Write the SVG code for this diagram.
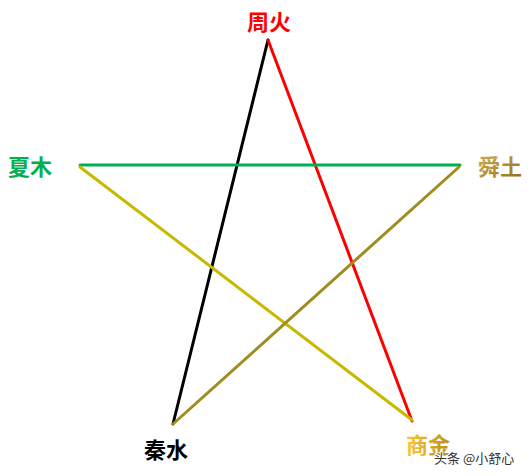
<svg xmlns="http://www.w3.org/2000/svg" width="531" height="476" viewBox="0 0 531 476">
<style>
.l{font-family:"Noto Sans CJK SC","Noto Sans CJK JP",sans-serif;font-weight:bold;font-size:22px;text-anchor:middle}
.e{fill:none;stroke-width:3;stroke-linecap:round}
.wm{font-family:"Noto Sans CJK SC",sans-serif;font-size:13px;fill:#333;stroke:#fff;stroke-width:2;paint-order:stroke}
</style>
<defs>
<linearGradient id="gs" x1="0" y1="0" x2="1" y2="1"><stop offset="0" stop-color="#d6b456"/><stop offset="1" stop-color="#8e6d1a"/></linearGradient>
<linearGradient id="gj" x1="0" y1="0" x2="1" y2="0"><stop offset="0" stop-color="#ffc534"/><stop offset="1" stop-color="#b8901a"/></linearGradient>
</defs>
<g id="edges">
<line class="e" x1="268" y1="40" x2="173" y2="424" stroke="#000"/>
<line class="e" x1="268" y1="40" x2="412" y2="421" stroke="#ff0000"/>
<line class="e" x1="80" y1="165" x2="460" y2="165" stroke="#00b050"/>
<line class="e" x1="80" y1="167" x2="412" y2="420" stroke="#c8b800"/>
<line class="e" x1="459" y1="167" x2="173" y2="424" stroke="#a08c20"/>
</g>
<g id="zhouhuo"><text class="l" x="269" y="30" fill="#ff0000">周火</text></g>
<g id="xiamu"><text class="l" x="30" y="175" fill="#00b050">夏木</text></g>
<g id="shuntu"><text class="l" x="500" y="175" fill="url(#gs)">舜土</text></g>
<g id="qinshui"><text class="l" x="166" y="458" fill="#000">秦水</text></g>
<g id="shangjin"><text class="l" x="428" y="453" fill="url(#gj)">商金</text></g>
<text class="wm" x="434" y="463">头条 @小舒心</text>
</svg>
